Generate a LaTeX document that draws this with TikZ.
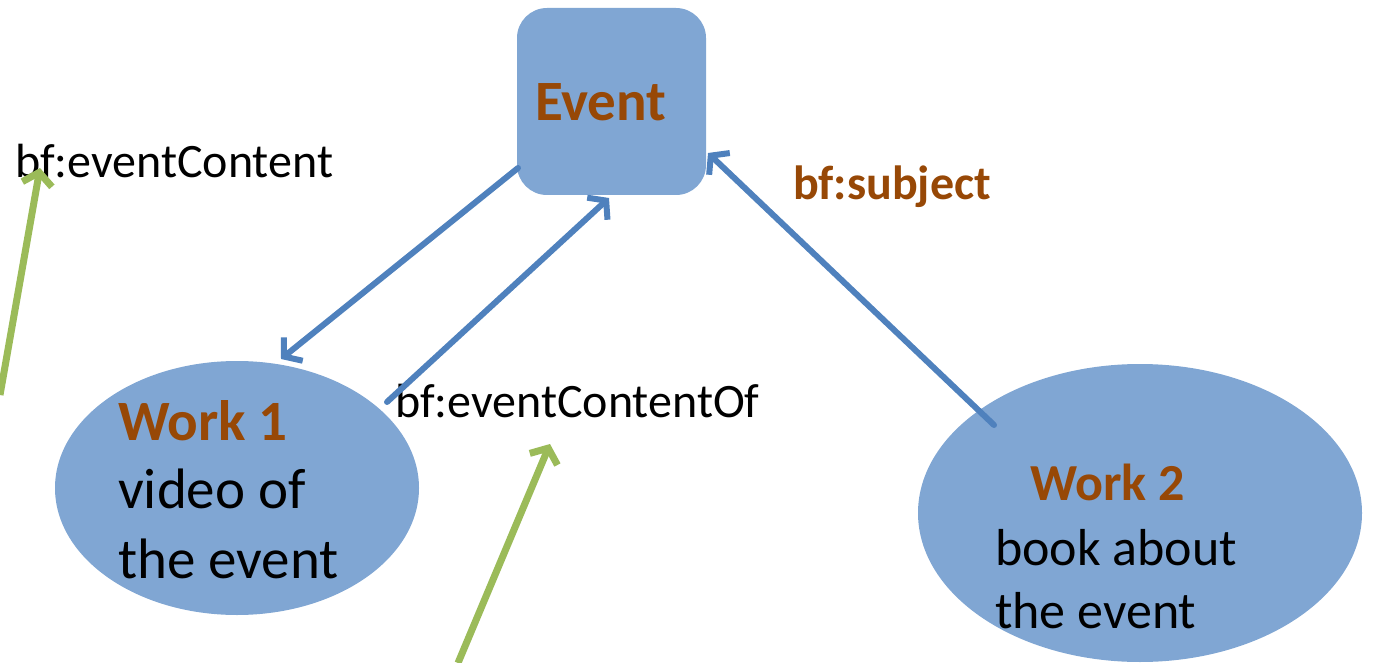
\documentclass[tikz,border=0pt]{standalone}
\usepackage{fontspec}
\setmainfont{Carlito}
\usetikzlibrary{arrows.meta,shapes.geometric}
\definecolor{shapefill}{HTML}{80A6D3}
\definecolor{linkblue}{HTML}{4F81BD}
\definecolor{linkgreen}{HTML}{9BBB59}
\definecolor{titlebrown}{HTML}{974806}
\tikzset{
  blob/.style={fill=shapefill, draw=none},
  bigtext/.style={font=\fontsize{57}{68}\selectfont, inner sep=0pt, anchor=base west},
  midtext/.style={font=\fontsize{52}{62}\selectfont, inner sep=0pt, anchor=base west},
  proptext/.style={font=\fontsize{48}{58}\selectfont, inner sep=0pt, anchor=base west},
  title/.style={text=titlebrown},
  bluelink/.style={draw=linkblue, line width=6pt, line cap=round,
    -{Straight Barb[length=12pt,width=30pt]}},
  greenlink/.style={draw=linkgreen, line width=7pt,
    -{Straight Barb[length=12pt,width=30pt]}}
}
\begin{document}
\begin{tikzpicture}[x=1pt,y=-1pt]
\useasboundingbox (0,0) rectangle (1376,663);

% shapes
\node[blob, rounded corners=30pt, minimum width=189pt, minimum height=187pt] (event) at (611.5,101.5) {};
\node[blob, ellipse, minimum width=364pt, minimum height=254pt] (work1) at (237,488) {};
\node[blob, ellipse, minimum width=444pt, minimum height=298pt] (work2) at (1140,513) {};

% texts
\node[bigtext, title] (eventlabel) at (535,121) {\bfseries Event};
\node[bigtext, title] (w1title) at (118,440) {\bfseries Work 1};
\node[bigtext] (w1line1) at (118,508) {video of};
\node[bigtext] (w1line2) at (118,578) {the event};
\node[midtext, title] (w2title) at (1030,500) {\bfseries Work 2};
\node[midtext] (w2line1) at (995,565) {book about};
\node[midtext] (w2line2) at (995,628) {the event};
\node[proptext] (content) at (15,178) {bf:eventContent};
\node[proptext] (contentof) at (395,417) {bf:eventContentOf};
\node[proptext, title] (subject) at (793,200) {\bfseries bf:subject};

% connector end points
\coordinate (evA) at (518,168);
\coordinate (w1A) at (281,359);
\coordinate (w1B) at (387,402);
\coordinate (evB) at (609,198);
\coordinate (w2A) at (994,425);
\coordinate (evC) at (708,153);
\coordinate (gA) at (0,395);
\coordinate (gB) at (40,168);
\coordinate (gC) at (458,663);
\coordinate (gD) at (550,444);

% links
\draw[bluelink] (evA) -- (w1A);
\draw[bluelink] (w1B) -- (evB);
\draw[bluelink] (w2A) -- (evC);
\draw[greenlink] (gA) -- (gB);
\draw[greenlink] (gC) -- (gD);
\end{tikzpicture}
\end{document}
